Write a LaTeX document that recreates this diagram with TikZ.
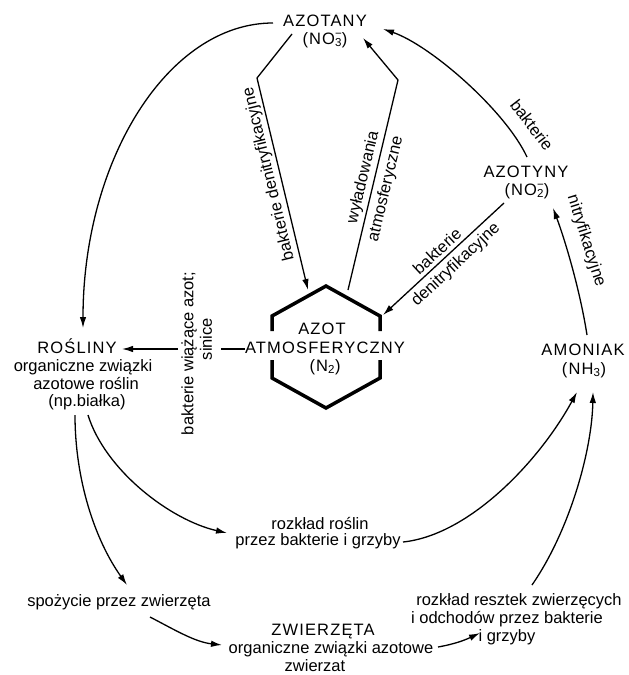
\documentclass[tikz,border=0pt]{standalone}
\usepackage{fontspec}
\setmainfont{Liberation Sans}
\newfontfamily\capsf{Liberation Sans}[LetterSpace=7]
\usetikzlibrary{arrows.meta}
\newcommand\subsup[2]{\rlap{\textsuperscript{#2}}\textsubscript{#1}}
\begin{document}
\begin{tikzpicture}[x=1pt,y=-1pt,
  every node/.style={inner sep=0pt, font=\fontsize{16.5}{18}\selectfont},
  captxt/.style={font=\fontsize{16.5}{18}\selectfont\capsf},
  lbl/.style={anchor=base},
  conn/.style={line width=1.3pt, -{Latex[length=11pt,width=6.5pt]}},
  plain/.style={line width=1.3pt},
  hexside/.style={line width=3.5pt, line join=miter, line cap=butt},
]
\useasboundingbox (0,0) rectangle (629,675);

% main nodes
\node[captxt,lbl] (azotany) at (325,26) {AZOTANY};
\node[captxt,lbl] (no3) at (325,44) {(NO\subsup{3}{−})};
\node[captxt,lbl] (azotyny) at (526,177) {AZOTYNY};
\node[captxt,lbl] (no2) at (527,195) {(NO\subsup{2}{−})};
\node[captxt,lbl] (amoniak) at (583,355) {AMONIAK};
\node[captxt,lbl] (nh3) at (584,374) {(NH\textsubscript{3})};
\node[captxt,lbl] (rosliny) at (77,353) {ROŚLINY};
\node[lbl] (rosl2) at (83,371) {organiczne związki};
\node[lbl] (rosl3) at (86,389) {azotowe roślin};
\node[lbl] (rosl4) at (87,406) {(np.białka)};
\node[captxt,lbl] (azot) at (322,334) {AZOT};
\node[captxt,lbl] (atmos) at (325,353) {ATMOSFERYCZNY};
\node[captxt,lbl] (n2) at (325,371) {(N\textsubscript{2})};
\node[lbl] (rr1) at (320,529) {rozkład roślin};
\node[lbl] (rr2) at (318,545) {przez bakterie i grzyby};
\node[lbl] (spoz) at (119,606) {spożycie przez zwierzęta};
\node[captxt,lbl] (zw1) at (323,635) {ZWIERZĘTA};
\node[lbl] (zw2) at (331,653) {organiczne związki azotowe};
\node[lbl] (zw3) at (315,671) {zwierzat};
\node[lbl] (rz1) at (519,605) {rozkład resztek zwierzęcych};
\node[lbl] (rz2) at (507,623) {i odchodów przez bakterie};
\node[lbl] (rz3) at (507,641) {i grzyby};

% hexagon
\draw[hexside] (272,331) -- (272,316) -- (326,286) -- (380,316) -- (380,331);
\draw[hexside] (272,360) -- (272,378) -- (326,408) -- (380,378) -- (380,360);

% edge labels
\node[rotate=103.5] (lbl1) at (269,174) {bakterie denitryfikacyjne};
\node[rotate=76.6] (lbl2a) at (363.5,177.5) {wyładowania};
\node[rotate=76.6] (lbl2b) at (386,189) {atmosferyczne};
\node[rotate=42.8] (lbl3a) at (437,251) {bakterie};
\node[rotate=42.8] (lbl3b) at (456,265) {denitryfikacyjne};
\node[rotate=-52.5] (lbl4a) at (532,125) {bakterie};
\node[rotate=-72.4] (lbl4b) at (586,241) {nitryfikacyjne};
\node[rotate=90] (lbl5a) at (189,353.5) {bakterie wiążące azot;};
\node[rotate=90] (lbl5b) at (206,339) {sinice};

% connector end points
\coordinate (c1s) at (273,23);  \coordinate (c1e) at (83,328);
\coordinate (c2s) at (527,157); \coordinate (c2e) at (383,29);
\coordinate (c3s) at (587,335); \coordinate (c3e) at (553,208);
\coordinate (c4s) at (504,203); \coordinate (c4e) at (383,315);
\coordinate (c5s) at (292,34);  \coordinate (c5m) at (257,78);  \coordinate (c5e) at (308,290);
\coordinate (c6s) at (348,290); \coordinate (c6m) at (398,80);  \coordinate (c6e) at (363,38);
\coordinate (c7s) at (245,349); \coordinate (c7a) at (221,349);
\coordinate (c7b) at (178,349); \coordinate (c7e) at (122,349);
\coordinate (c8s) at (75,415);  \coordinate (c8e) at (127,585);
\coordinate (c9s) at (88,415);  \coordinate (c9e) at (227,533);
\coordinate (c10s) at (403,542); \coordinate (c10e) at (577,392);
\coordinate (c11s) at (532,585); \coordinate (c11e) at (593,392);
\coordinate (c12s) at (150,617); \coordinate (c12e) at (222,645);
\coordinate (c13s) at (438,647); \coordinate (c13e) at (480,633);

% connectors
\draw[conn] (c1s) .. controls (168,23) and (83,160) .. (c1e);
\draw[conn] (c2s) .. controls (505,110) and (430,45) .. (c2e);
\draw[conn] (c3s) .. controls (580,290) and (565,240) .. (c3e);
\draw[conn] (c4s) -- (c4e);
\draw[conn] (c5s) -- (c5m) -- (c5e);
\draw[conn] (c6s) -- (c6m) -- (c6e);
\draw[plain] (c7s) -- (c7a);
\draw[conn] (c7b) -- (c7e);
\draw[conn] (c8s) .. controls (75,480) and (95,540) .. (c8e);
\draw[conn] (c9s) .. controls (105,470) and (170,520) .. (c9e);
\draw[conn] (c10s) .. controls (470,535) and (540,460) .. (c10e);
\draw[conn] (c11s) .. controls (570,530) and (592,450) .. (c11e);
\draw[conn] (c12s) .. controls (175,630) and (195,642) .. (c12e);
\draw[conn] (c13s) .. controls (455,644) and (465,640) .. (c13e);
\end{tikzpicture}
\end{document}
